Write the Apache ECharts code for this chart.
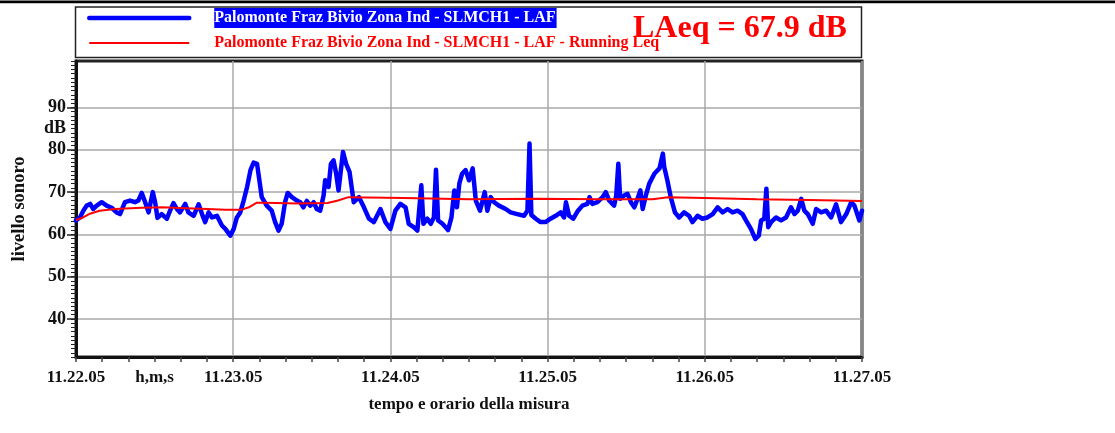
<!DOCTYPE html>
<html>
<head>
<meta charset="utf-8">
<title>Palomonte Fraz Bivio Zona Ind</title>
<script src="https://cdn.jsdelivr.net/npm/echarts@6/dist/echarts.min.js"></script>
<style>
  html, body { margin: 0; padding: 0; background: #fff; }
  #chart { width: 1115px; height: 433px; }
</style>
</head>
<body>
<div id="chart"></div>
<script>
// secondi dall'inizio misura (11.22.05) e livello LAF in dB
const laTimes = [0, 1.5, 2.8, 4.1, 5.4, 6.6, 7.9, 9.8, 11.7, 13.6, 15.5, 16.8, 18.7, 20.6, 22.5, 23.8, 25.1, 26.4, 27.7, 29.3,
  30.2, 31.1, 32.7, 34.7, 35.9, 37.2, 38.5, 39.7, 41.7, 42.9, 44.9, 46.8, 48.1, 49.3, 50.6, 51.9, 53.8, 55.7, 57, 58.9,
  60.2, 61.4, 62.7, 64, 65.3, 66.6, 67.8, 69.1, 70.9, 72.8, 74.7, 76, 77.3, 78.5, 79.8, 80.8, 82.4, 84.3, 85.6, 86.8,
  88.1, 89.4, 90.7, 91.9, 93.2, 94.5, 95.1, 96.4, 97.3, 98.3, 99.3, 100.2, 101.9, 103.1, 104.4, 106, 108, 109.9, 111.8, 113.7,
  116.2, 118.1, 120, 121.9, 123.8, 125.8, 127, 128.9, 130.3, 131.8, 132.6, 134.1, 135.4, 136.6, 137.4, 138.2, 139.9, 142, 143.3, 144.4,
  145.4, 146.3, 147.4, 148.7, 150, 151.4, 152.6, 154.2, 156, 157, 158.3, 159.6, 161.4, 164, 165.9, 168.4, 171, 172.3, 173.1, 173.8,
  175.5, 177.3, 179.2, 181.1, 183.1, 185, 186.3, 187, 188.2, 189.8, 191.6, 193.3, 195.2, 196, 197.1, 199, 201, 202.2, 203.5, 205.4,
  206.2, 207, 207.7, 209.2, 210.5, 211.8, 213.1, 214.3, 215.4, 216.3, 217.5, 218.8, 220.8, 222.7, 224, 224.5, 225.7, 227, 228.6, 230.2,
  232.1, 234, 235.3, 237.2, 239.1, 241, 243, 244.9, 246.8, 248.7, 250.6, 252.5, 254.4, 255.7, 257.6, 259.3, 260.6, 261.5, 262.7, 263.5,
  264.2, 265.3, 267.2, 269.1, 271, 272.9, 274.2, 275.5, 276.8, 278, 279.3, 281.2, 282.5, 284.4, 286.3, 288.2, 290.1, 292, 294, 295.9,
  297.1, 299, 300];
const laLevels = [63.3, 64, 65.6, 66.8, 67.2, 66, 66.8, 67.6, 66.8, 66.3, 65.2, 64.8, 67.6, 68, 67.6, 68, 69.8, 67.6, 65.2, 70,
  67.6, 63.9, 64.8, 63.7, 65.6, 67.4, 66, 65.2, 67.2, 65.2, 64.4, 67.1, 64.8, 62.9, 65.2, 64, 64.4, 62.1, 61.3, 59.7,
  61.3, 64, 65.2, 68, 71.2, 75.2, 77, 76.7, 68.8, 66.8, 65.6, 62.9, 60.9, 62.5, 67.6, 69.8, 68.8, 68, 67.6, 66.4,
  67.9, 66.8, 67.6, 66, 65.6, 69.2, 72.8, 71.2, 76.7, 77.5, 74.4, 70.4, 79.5, 76.7, 74.8, 67.6, 68.8, 66.4, 63.7, 62.9,
  66, 62.9, 61.3, 65.6, 67.2, 66.4, 62.5, 61.7, 60.9, 71.6, 62.5, 63.7, 62.5, 64, 75.3, 63.3, 62.5, 61, 64, 70.4,
  66.4, 72, 74.4, 75.2, 72.8, 75.6, 68, 65.6, 70, 65.6, 68.8, 67.6, 66.8, 66, 65.2, 64.8, 64.4, 65.6, 81.5, 64.6,
  63.7, 62.9, 62.9, 63.7, 64.4, 65.2, 64, 67.6, 64.4, 63.7, 65.6, 66.8, 67.2, 68.8, 67.2, 67.6, 68.8, 70, 68, 66.8,
  69.2, 76.7, 68.4, 69.2, 69.6, 67.6, 66.4, 68.4, 70.4, 66, 69.2, 72, 74.4, 75.6, 79.1, 76, 72.8, 68.8, 65.2, 64,
  65.2, 64.4, 62.9, 64.4, 63.7, 64, 64.8, 66.4, 65.2, 66, 65.2, 65.6, 64.8, 63.3, 61.3, 58.9, 59.7, 63.3, 63.7, 70.8,
  61.7, 62.9, 64, 63.3, 64, 66.4, 64.8, 65.6, 68.4, 65.6, 64.8, 62.5, 66, 65.2, 65.6, 64, 67.1, 62.9, 64.8, 67.6,
  66.8, 63.3, 65.6];

// Leq progressivo (Running Leq)
const leqTimes = [0, 2, 5, 9, 15, 25, 33, 42, 50, 57, 63, 66, 69, 72, 85, 96, 100, 104, 125, 150, 175, 200, 220, 226, 240, 260, 280, 300];
const leqLevels = [63.4, 63.8, 64.8, 65.6, 66, 66.3, 66.4, 66.2, 66, 65.8, 65.8, 66.4, 67.5, 67.5, 67.3, 67.4, 68, 68.8, 68.6, 68.3, 68.4, 68.3, 68.3, 68.8, 68.6, 68.3, 68.1, 67.9];

const yTickValues = [40, 50, 60, 70, 80, 90];
const yLabelValues = [40, 50, 60, 70, 80, 85, 90];   // 85 -> "dB"
const xLabelSeconds = [0, 30, 60, 120, 180, 240, 300]; // 30 -> "h,m,s"
const startSec = 11 * 3600 + 22 * 60 + 5;

const nameLAF = 'Palomonte Fraz Bivio Zona Ind - SLMCH1 - LAF';
const nameLeq = 'Palomonte Fraz Bivio Zona Ind - SLMCH1 - LAF - Running Leq';

const FONT = 'Liberation Serif';

function pad(n) { return (n < 10 ? '0' : '') + n; }
function fmtTime(v) {
  if (v === 30) return 'h,m,s';
  const s = startSec + Math.round(v);
  return Math.floor(s / 3600) + '.' + pad(Math.floor(s / 60) % 60) + '.' + pad(s % 60);
}

const chart = echarts.init(document.getElementById('chart'));

const option = {
  animation: false,
  backgroundColor: '#fff',
  title: {
    text: 'LAeq = 67.9 dB',
    left: 633,
    top: 13,
    padding: 0,
    z: 10,
    textStyle: { fontFamily: FONT, fontWeight: 'bold', fontSize: 32, color: '#ff0000' }
  },
  legend: {
    orient: 'vertical',
    left: 87,
    top: 8,
    padding: 0,
    itemWidth: 100,
    itemHeight: 20,
    itemGap: 7,
    selectedMode: false,
    itemStyle: { opacity: 0 },
    data: [
      { name: nameLAF, lineStyle: { width: 4.5, color: '#0000ff', cap: 'round' } },
      { name: nameLeq, lineStyle: { width: 2, color: '#ff0000' } }
    ],
    formatter: function (name) {
      return name === nameLAF ? '{g| }{a|' + name + '}' : '{g| }{b|' + name + '}';
    },
    textStyle: {
      fontFamily: FONT, fontWeight: 'bold', fontSize: 16,
      rich: {
        g: { width: 20, fontSize: 16, fontFamily: FONT },
        a: { fontFamily: FONT, fontWeight: 'bold', fontSize: 16, color: '#fff', backgroundColor: '#0000ff', padding: [2, 1, 2, 0] },
        b: { fontFamily: FONT, fontWeight: 'bold', fontSize: 16, color: '#ff0000' }
      }
    }
  },
  graphic: [
    { type: 'rect', z: -1, shape: { x: 0, y: 0.5, width: 1115, height: 2.8 }, style: { fill: '#000' } },
    { type: 'rect', z: -1, shape: { x: 75.5, y: 7, width: 786, height: 50.5 }, style: { fill: '#fff', stroke: '#222', lineWidth: 1.5 } }
  ],
  grid: {
    left: 76, right: 253, top: 61, bottom: 76,
    show: true, borderColor: '#222', borderWidth: 3, backgroundColor: '#fff'
  },
  xAxis: {
    type: 'value',
    min: 0, max: 300, interval: 60,
    name: 'tempo e orario della misura',
    nameLocation: 'middle',
    nameGap: 39,
    nameTextStyle: { fontFamily: FONT, fontWeight: 'bold', fontSize: 17, color: '#111' },
    axisLine: { show: true, onZero: false, lineStyle: { color: '#111', width: 3 } },
    axisTick: { show: true, length: 5, lineStyle: { color: '#444', width: 1.5 } },
    minorTick: { show: true, splitNumber: 6, length: 5, lineStyle: { color: '#444', width: 1.5 } },
    axisLabel: {
      customValues: xLabelSeconds,
      formatter: fmtTime,
      margin: 12,
      fontFamily: FONT, fontWeight: 'bold', fontSize: 17, color: '#111'
    },
    splitLine: { show: true, lineStyle: { color: '#a8a8a8', width: 1.5 } }
  },
  yAxis: [
    {
      type: 'value',
      min: 31, max: 101,
      position: 'left',
      name: 'livello sonoro',
      nameLocation: 'middle',
      nameRotate: 90,
      nameGap: 47,
      nameTextStyle: { fontFamily: FONT, fontWeight: 'bold', fontSize: 18.5, color: '#111' },
      axisLine: { show: true, lineStyle: { color: '#111', width: 3 } },
      axisTick: { show: true, customValues: yTickValues, length: 9, lineStyle: { color: '#222', width: 1.5 } },
      axisLabel: {
        customValues: yLabelValues,
        formatter: function (v) { return v === 85 ? 'dB' : String(v); },
        margin: 10,
        fontFamily: FONT, fontWeight: 'bold', fontSize: 18, color: '#111'
      },
      splitLine: { show: true, lineStyle: { color: '#a8a8a8', width: 1.5 } }
    },
    {
      type: 'value',
      min: 31, max: 101, interval: 1,
      position: 'left',
      axisLine: { show: false },
      axisTick: { show: true, length: 5, lineStyle: { color: '#222', width: 1 } },
      axisLabel: { show: false },
      splitLine: { show: false }
    }
  ],
  series: [
    {
      name: nameLAF,
      type: 'line',
      yAxisIndex: 0,
      symbol: 'none',
      data: laTimes.map((t, i) => [t, laLevels[i]]),
      lineStyle: { color: '#0000ff', width: 4.5, join: 'round', cap: 'round' },
      itemStyle: { color: '#0000ff' },
      z: 3
    },
    {
      name: nameLeq,
      type: 'line',
      yAxisIndex: 0,
      symbol: 'none',
      data: leqTimes.map((t, i) => [t, leqLevels[i]]),
      lineStyle: { color: '#ff0000', width: 2 },
      itemStyle: { color: '#ff0000' },
      z: 4
    }
  ]
};

chart.setOption(option);
</script>
</body>
</html>
